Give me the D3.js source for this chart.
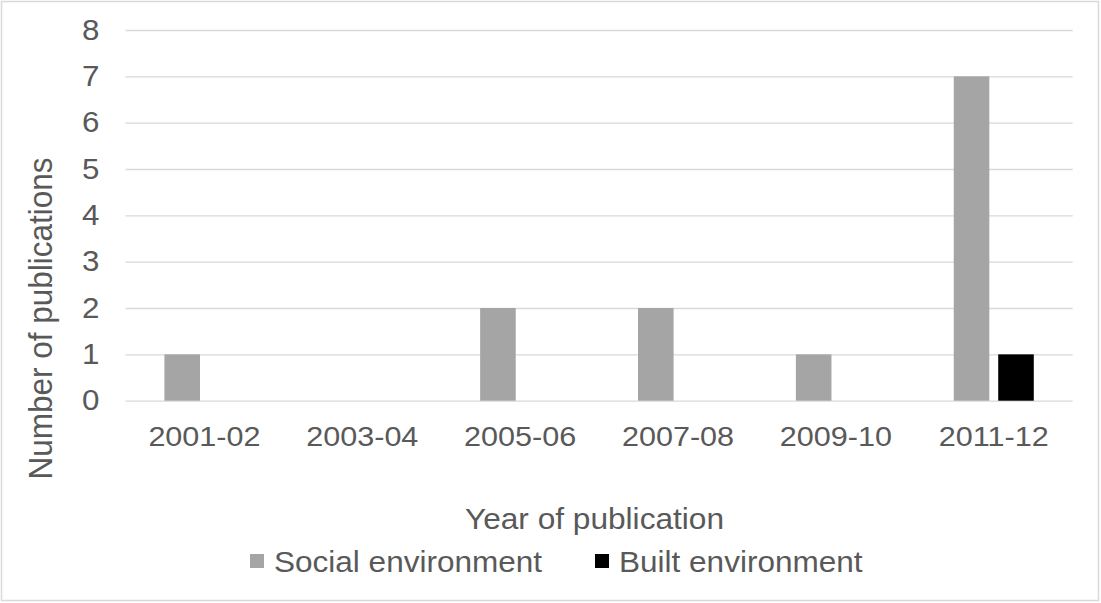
<!DOCTYPE html>
<html><head><meta charset="utf-8">
<script src="https://cdn.jsdelivr.net/npm/d3@7/dist/d3.min.js"></script>
<style>body{margin:0;background:#fff}svg{display:block;font-family:"Liberation Sans",Arial,sans-serif}</style>
</head><body><svg id="c" width="1101" height="603"></svg>
<script>
const categories = ["2001-02","2003-04","2005-06","2007-08","2009-10","2011-12"];
const seriesNames = ["Social environment","Built environment"];
const socialValues = [1,0,2,2,1,7];
const builtValues = [0,0,0,0,0,1];
const yTicks = [0,1,2,3,4,5,6,7,8];
const colors = ["#a5a5a5","#000000"];

const SX = 1.08; // slight horizontal text stretch seen in the reference
const txt = "#595959";
const svg = d3.select("#c");
svg.append("rect").attr("x",1.5).attr("y",1.5).attr("width",1097).attr("height",599)
  .attr("fill","#fff").attr("stroke","#d9d9d9").attr("stroke-width",1.5);

const pL=125.5, pR=1072.7, pT=30, pB=400.7;
const x0 = d3.scaleBand().domain(categories).range([pL,pR]).paddingInner(0).paddingOuter(0);
const x1 = d3.scaleBand().domain(seriesNames).range([0,x0.bandwidth()]).paddingInner(0.2).paddingOuter(0.875);
const y = d3.scaleLinear().domain([0,8]).range([pB,pT]);

const gy = svg.append("g").attr("transform",`translate(${pL},0)`)
  .call(d3.axisLeft(y).tickValues(yTicks).tickSize(-(pR-pL)).tickPadding(25).tickFormat(d3.format("d")));
gy.select(".domain").remove();
gy.selectAll(".tick line").attr("stroke","#d9d9d9").attr("stroke-width",1.3);
gy.selectAll(".tick text").attr("fill",txt).style("font-size","29px")
  .attr("font-family","Liberation Sans, Arial, sans-serif")
  .attr("x",-26/SX).attr("transform",`scale(${SX},1)`);

const data = categories.map((c,i)=>({cat:c, vals:[socialValues[i], builtValues[i]]}));
const groups = svg.append("g").selectAll("g").data(data).join("g")
  .attr("transform",d=>`translate(${x0(d.cat)},0)`);
groups.selectAll("rect").data(d=>d.vals.map((v,j)=>({name:seriesNames[j], v, j})).filter(e=>e.v>0))
  .join("rect")
  .attr("x",e=>x1(e.name)).attr("width",x1.bandwidth())
  .attr("y",e=>y(e.v)).attr("height",e=>y(0)-y(e.v))
  .attr("fill",e=>colors[e.j]);

const gx = svg.append("g").attr("transform",`translate(0,${pB})`)
  .call(d3.axisBottom(x0).tickSize(0).tickPadding(25.5));
gx.select(".domain").remove();
gx.selectAll(".tick text").attr("fill",txt).style("font-size","28.3px")
  .attr("font-family","Liberation Sans, Arial, sans-serif")
  .attr("transform",`scale(${SX},1)`);

svg.append("text").attr("transform",`translate(594.5,528.5) scale(${SX},1)`).attr("text-anchor","middle")
  .attr("fill",txt).style("font-size","29.3px").text("Year of publication");
svg.append("text").attr("transform",`translate(52,318.5) scale(${SX},1) rotate(-90)`).attr("text-anchor","middle")
  .attr("fill",txt).style("font-size","31.5px").text("Number of publications");

const legendX = [250, 595];
const lg = svg.append("g").selectAll("g").data(seriesNames).join("g")
  .attr("transform",(d,i)=>`translate(${legendX[i]},561)`);
lg.append("rect").attr("x",0).attr("y",-7).attr("width",14).attr("height",14).attr("fill",(d,i)=>colors[i]);
lg.append("text").attr("transform",`translate(24,10.5) scale(${SX},1)`).attr("fill",txt).style("font-size","29.2px").text(d=>d);
</script></body></html>
